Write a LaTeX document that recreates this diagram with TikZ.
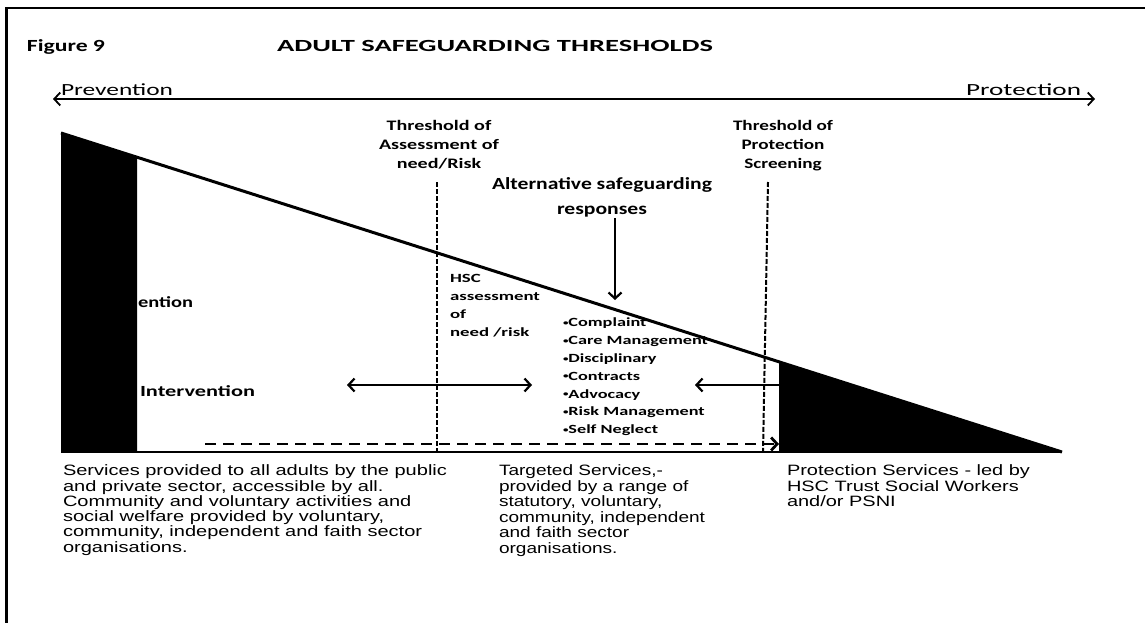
\documentclass[tikz,border=0pt]{standalone}
\usepackage{fontspec}
\usepackage{graphicx}
\usetikzlibrary{arrows.meta}
\newfontfamily\calfont{Carlito}
\newfontfamily\arifont{Liberation Sans}
\newcommand{\tb}[3]{\resizebox{#1pt}{\height}{\begin{tabular}{@{}#2@{}}#3\end{tabular}}}
\newcommand{\smbul}{\raisebox{0.12em}{\scalebox{0.6}{•}}}
\begin{document}
\begin{tikzpicture}[x=1pt,y=-1pt,
  txt/.style={inner sep=0pt, outer sep=0pt},
  calb/.style 2 args={txt, font=\calfont\bfseries\fontsize{#1}{#2}\selectfont},
  cal/.style 2 args={txt, font=\calfont\fontsize{#1}{#2}\selectfont},
  ari/.style 2 args={txt, font=\arifont\fontsize{#1}{#2}\selectfont},
  >={Straight Barb[length=6pt,width=13pt]},
  thick line/.style={line width=2.2pt},
  threshold/.style={line width=2pt, dash pattern=on 5pt off 2pt},
  dashflow/.style={line width=2.8pt, dash pattern=on 11pt off 7pt}]
\useasboundingbox (0,0) rectangle (1145,623);
\fill[white] (0,0) rectangle (1145,623);
% frame
\draw[line width=2.5pt] (1146,8) -- (6.5,8) -- (6.5,624);
% headings
\node[calb={17}{20}, anchor=north west] (fig) at (27,37) {\tb{78}{l}{Figure 9}};
\node[calb={17}{20}, anchor=north west] (title) at (277,37) {\tb{436}{l}{ADULT SAFEGUARDING THRESHOLDS}};
\node[cal={17}{20}, anchor=north west] (prev) at (61,81) {\tb{112}{l}{Prevention}};
\node[cal={17}{20}, anchor=north east] (prot) at (1081,81) {\tb{115}{l}{Protection}};
\coordinate (pl) at (53,99);
\coordinate (pr) at (1095,99);
\draw[line width=1.8pt, <->] (pl) -- (pr);
% black shapes
\fill (61,133) -- (137,157.3) -- (137,452) -- (61,452) -- cycle;
\fill (779,362.5) -- (1062,452) -- (779,452) -- cycle;
% texts
\node[calb={14.5}{19}, anchor=north] (th1) at (439,116.7) {\tb{120}{c}{Threshold of\\Assessment of\\need/Risk}};
\node[calb={14.5}{19}, anchor=north] (th2) at (783,116.7) {\tb{100}{c}{Threshold of\\Protection\\Screening}};
\node[calb={17}{25}, anchor=north] (alt) at (602,171.5) {\tb{220}{c}{Alternative safeguarding\\responses}};
\node[calb={12.5}{18}, anchor=north west] (hsc) at (450,269.4) {\tb{90}{l}{HSC\\assessment\\of\\need /risk}};
\node[calb={12.5}{17.8}, anchor=north west] (bul) at (563,314.5) {\tb{145}{l}{\smbul Complaint\\\smbul Care Management\\\smbul Disciplinary\\\smbul Contracts\\\smbul Advocacy\\\smbul Risk Management\\\smbul Self Neglect}};
\node[calb={15.5}{18}, anchor=north west] (ent) at (138,294.4) {\tb{55}{l}{ention}};
\node[calb={15.5}{18}, anchor=north west] (int) at (140,383.4) {\tb{115}{l}{Intervention}};
\node[ari={15}{14.6}, anchor=north west] (s1) at (63,465) {\tb{384}{l}{Services provided  to all adults by the public\\and private sector, accessible  by all.\\Community and voluntary  activities and\\social welfare provided by voluntary,\\community, independent  and faith sector\\organisations.}};
\node[ari={15}{15.3}, anchor=north west] (s2) at (499,465) {\tb{206}{l}{Targeted Services,-\\provided by a range of\\statutory,  voluntary,\\community, independent\\and faith sector\\organisations.}};
\node[ari={15}{15.3}, anchor=north west] (s3) at (787,465) {\tb{243}{l}{Protection Services - led by\\HSC Trust Social Workers\\and/or PSNI}};
% lines
\coordinate (slA) at (61,133);
\coordinate (slB) at (1062,452);
\coordinate (bl) at (61,452);
\draw[line width=3pt] (slA) -- (slB);
\draw[line width=2.5pt] (bl) -- (slB);
\coordinate (t1a) at (437,182);
\coordinate (t1b) at (437,452);
\coordinate (t2a) at (768,182);
\coordinate (t2b) at (763,452);
\draw[threshold] (t1a) -- (t1b);
\draw[threshold] (t2a) -- (t2b);
\coordinate (da) at (205,444);
\coordinate (db) at (779,444);
\draw[dashflow, ->] (da) -- (db);
\coordinate (h1a) at (347,385);
\coordinate (h1b) at (532,385);
\draw[thick line, <->] (h1a) -- (h1b);
\coordinate (h2a) at (779,385);
\coordinate (h2b) at (695,385);
\draw[thick line, ->] (h2a) -- (h2b);
\coordinate (va) at (615,218);
\coordinate (vb) at (615,300);
\draw[thick line, ->] (va) -- (vb);
\end{tikzpicture}
\end{document}
